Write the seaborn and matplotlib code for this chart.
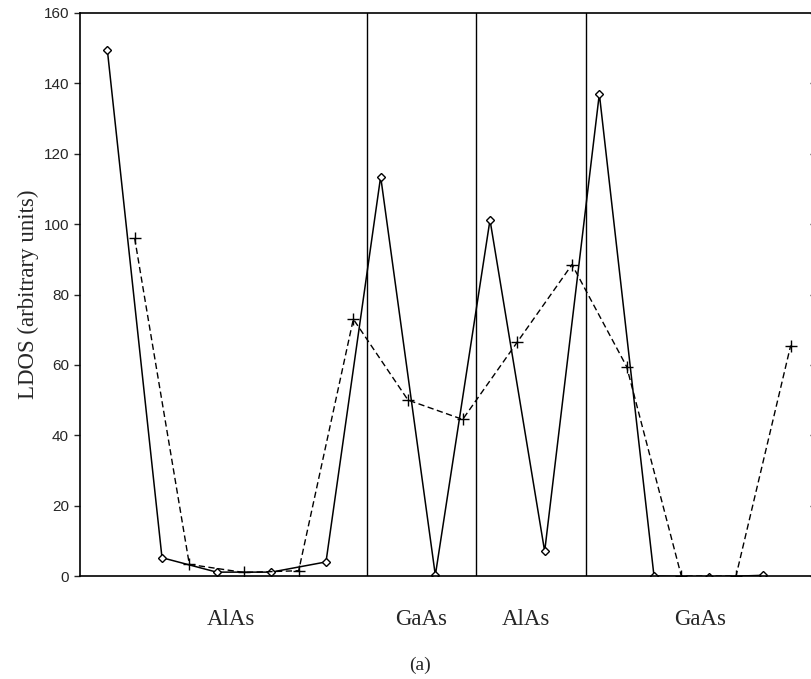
import numpy as np
import pandas as pd
import seaborn as sns
import matplotlib.pyplot as plt

# %% data
site_solid = [0, 1, 2, 3, 4, 5, 6, 7, 8, 9, 10, 11, 12]
ldos_solid = [149.5, 5.2, 1.1, 1.1, 4.0, 113.5, 0.2, 101.2, 7.0, 137.0, 0.0, -0.3, 0.2]

site_dashed = [0.5, 1.5, 2.5, 3.5, 4.5, 5.5, 6.5, 7.5, 8.5, 9.5, 10.5, 11.5, 12.5]
ldos_dashed = [96.0, 3.3, 1.0, 1.5, 73.0, 50.0, 44.5, 66.5, 88.5, 59.5, 0.0, 0.0, 65.5]

interfaces = [4.75, 6.75, 8.75]
layer_names = ['AlAs', 'GaAs', 'AlAs', 'GaAs']
layer_label_pos = [2.27, 5.74, 7.66, 10.85]

df_solid = pd.DataFrame({'site': site_solid, 'ldos': ldos_solid})
df_dashed = pd.DataFrame({'site': site_dashed, 'ldos': ldos_dashed})

# %% plot
sns.set_style('ticks')
plt.rcParams['font.family'] = ['Liberation Sans', 'DejaVu Sans']

fig = plt.figure(figsize=(8.11, 6.79), dpi=100)
ax = fig.add_axes([80 / 811, 103 / 679, 738 / 811, 563 / 679])

sns.lineplot(data=df_solid, x='site', y='ldos', ax=ax, color='black', lw=1.1,
             marker='D', markersize=4.5, markerfacecolor='white',
             markeredgecolor='black', markeredgewidth=1.0, estimator=None)
sns.lineplot(data=df_dashed, x='site', y='ldos', ax=ax, color='black', lw=1.0,
             linestyle=(0, (4.5, 2.5)), marker='+', markersize=8,
             markeredgecolor='black', markeredgewidth=1.0, estimator=None)

for xv in interfaces:
    ax.axvline(xv, color='black', lw=1.0)

ax.set_xlim(-0.5, 13.0)
ax.set_ylim(0, 160)
ax.set_yticks(range(0, 161, 20))
ax.tick_params(axis='y', which='both', direction='out', length=4.5, width=1,
               labelsize=11, right=True)
for t in ax.yaxis.get_ticklines()[1::2]:
    t.set_marker(0)
    t.set_markersize(6)

ax.set_xticks(layer_label_pos)
ax.set_xticklabels(layer_names, family=['Liberation Serif'], fontsize=16.5)
ax.tick_params(axis='x', length=0, pad=24)

ax.set_xlabel('')
fig.text(420 / 811, 1 - 665 / 679, '(a)', family=['Liberation Serif'],
         fontsize=14, ha='center', va='center')
ax.set_ylabel('LDOS (arbitrary units)', family=['Liberation Serif'], fontsize=16.5,
              labelpad=3)

for side in ['left', 'bottom', 'top']:
    ax.spines[side].set_linewidth(1.2)
    ax.spines[side].set_color('black')
ax.spines['right'].set_visible(False)

fig.savefig('out.png', dpi=100)
